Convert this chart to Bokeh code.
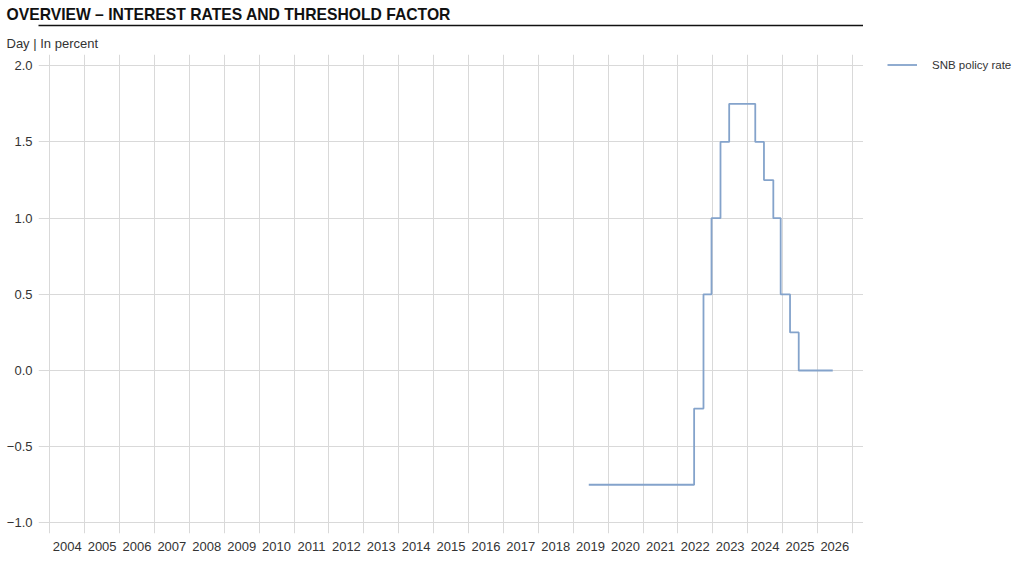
import pandas as pd
from bokeh.plotting import figure
from bokeh.layouts import row
from bokeh.models import (Range1d, FixedTicker, DatetimeTickFormatter, Legend,
                          Title, LinearAxis, ColumnDataSource)
from bokeh.embed import file_html
from bokeh.resources import INLINE

# ---- data ----
title_text = "OVERVIEW – INTEREST RATES AND THRESHOLD FACTOR"
subtitle_text = "Day | In percent"
series_name = "SNB policy rate"
rate_dates = ["2019-06-13", "2022-06-20", "2022-09-26", "2022-12-19", "2023-03-23",
              "2023-06-22", "2024-03-21", "2024-06-20", "2024-09-26", "2024-12-12",
              "2025-03-20", "2025-06-19", "2026-06-10"]
rate_values = [-0.75, -0.25, 0.5, 1.0, 1.5, 1.75, 1.5, 1.25, 1.0, 0.5, 0.25, 0.0, 0.0]
years = list(range(2004, 2027))
y_ticks = [-1.0, -0.5, 0.0, 0.5, 1.0, 1.5, 2.0]
y_labels = ["−1.0", "−0.5", "0.0", "0.5", "1.0", "1.5", "2.0"]

FONT = "Liberation Sans"
TXT = "#333333"
GRID = "#d9d9d9"
LINE = "#84a3cb"

def ms(s):
    return pd.Timestamp(s).value / 1e6

x0 = pd.Timestamp("2004-01-01") - pd.Timedelta(days=118)
x1 = pd.Timestamp("2027-01-01") + pd.Timedelta(days=117)
p = figure(width=863, height=570, output_backend="svg", toolbar_location=None,
           x_axis_type="datetime",
           x_range=Range1d(ms(x0), ms(x1)), y_range=Range1d(-1.070, 2.074),
           min_border_left=38, min_border_right=0, min_border_top=45, min_border_bottom=37)
p.outline_line_color = None
p.title.visible = False

src = ColumnDataSource(dict(date=pd.to_datetime(rate_dates), rate=rate_values))
r = p.step(x="date", y="rate", source=src, mode="after", line_color=LINE, line_width=1.8)

# x axis: labels mid-year, grid at year starts
p.xaxis.ticker = FixedTicker(ticks=[ms(f"{y}-07-02") for y in years])
p.xaxis.formatter = DatetimeTickFormatter(years="%Y", months="%Y", days="%Y", hours="%Y",
                                          minutes="%Y", seconds="%Y", minsec="%Y",
                                          hourmin="%Y", milliseconds="%Y", microseconds="%Y")
p.xgrid.ticker = FixedTicker(ticks=[ms(f"{y}-01-01") for y in years + [2027]])

p.yaxis.ticker = FixedTicker(ticks=y_ticks)
p.yaxis.major_label_overrides = {t: l for t, l in zip(y_ticks, y_labels)}

for ax in (p.xaxis, p.yaxis):
    ax.axis_line_color = None
    ax.major_tick_line_color = None
    ax.minor_tick_line_color = None
    ax.major_tick_out = 0
    ax.major_tick_in = 0
    ax.major_label_text_font = FONT
    ax.major_label_text_font_size = "13px"
    ax.major_label_text_color = TXT
p.xaxis.major_label_standoff = 8
p.yaxis.major_label_standoff = 6

for g in (p.xgrid, p.ygrid):
    g.grid_line_color = GRID
    g.grid_line_width = 1

# header, stacked outward from the frame: subtitle, spacer, rule, title
p.add_layout(Title(text=subtitle_text, align="left", offset=-32, standoff=8,
                   text_font=FONT, text_font_size="13px", text_font_style="normal",
                   text_color=TXT), "above")
p.add_layout(Title(text="\u00a0", align="left", standoff=1,
                   text_font=FONT, text_font_size="1px"), "above")
rule = LinearAxis(ticker=FixedTicker(ticks=[]), axis_line_color="#111111",
                  axis_line_width=1.5, major_tick_line_color=None,
                  minor_tick_line_color=None, major_label_text_font_size="0px",
                  major_label_standoff=0,
                  major_tick_out=0, major_tick_in=0, minor_tick_out=0)
p.add_layout(rule, "above")
p.add_layout(Title(text=title_text, align="left", offset=-32, standoff=6,
                   text_font=FONT, text_font_size="15.7px", text_font_style="bold",
                   text_color="#111111"), "above")

# legend panel to the right of the chart
lf = figure(width=161, height=570, output_backend="svg", toolbar_location=None,
            x_range=Range1d(0, 1), y_range=Range1d(0, 1),
            x_axis_location=None, y_axis_location=None,
            min_border_left=0, min_border_right=0, min_border_top=53, min_border_bottom=37)
lf.grid.visible = False
lf.outline_line_color = None
proxy = lf.line(x=[float("nan")], y=[float("nan")], line_color=LINE, line_width=1.8)
legend = Legend(items=[(series_name, [proxy])], location=(24, 461),
                padding=0, margin=0, glyph_width=30, glyph_height=15,
                label_standoff=15, label_text_font=FONT, label_text_font_size="11.5px",
                label_text_color=TXT, border_line_color=None, background_fill_alpha=0)
lf.add_layout(legend)

open("out.html", "w").write(file_html(row(p, lf, spacing=0), INLINE))
